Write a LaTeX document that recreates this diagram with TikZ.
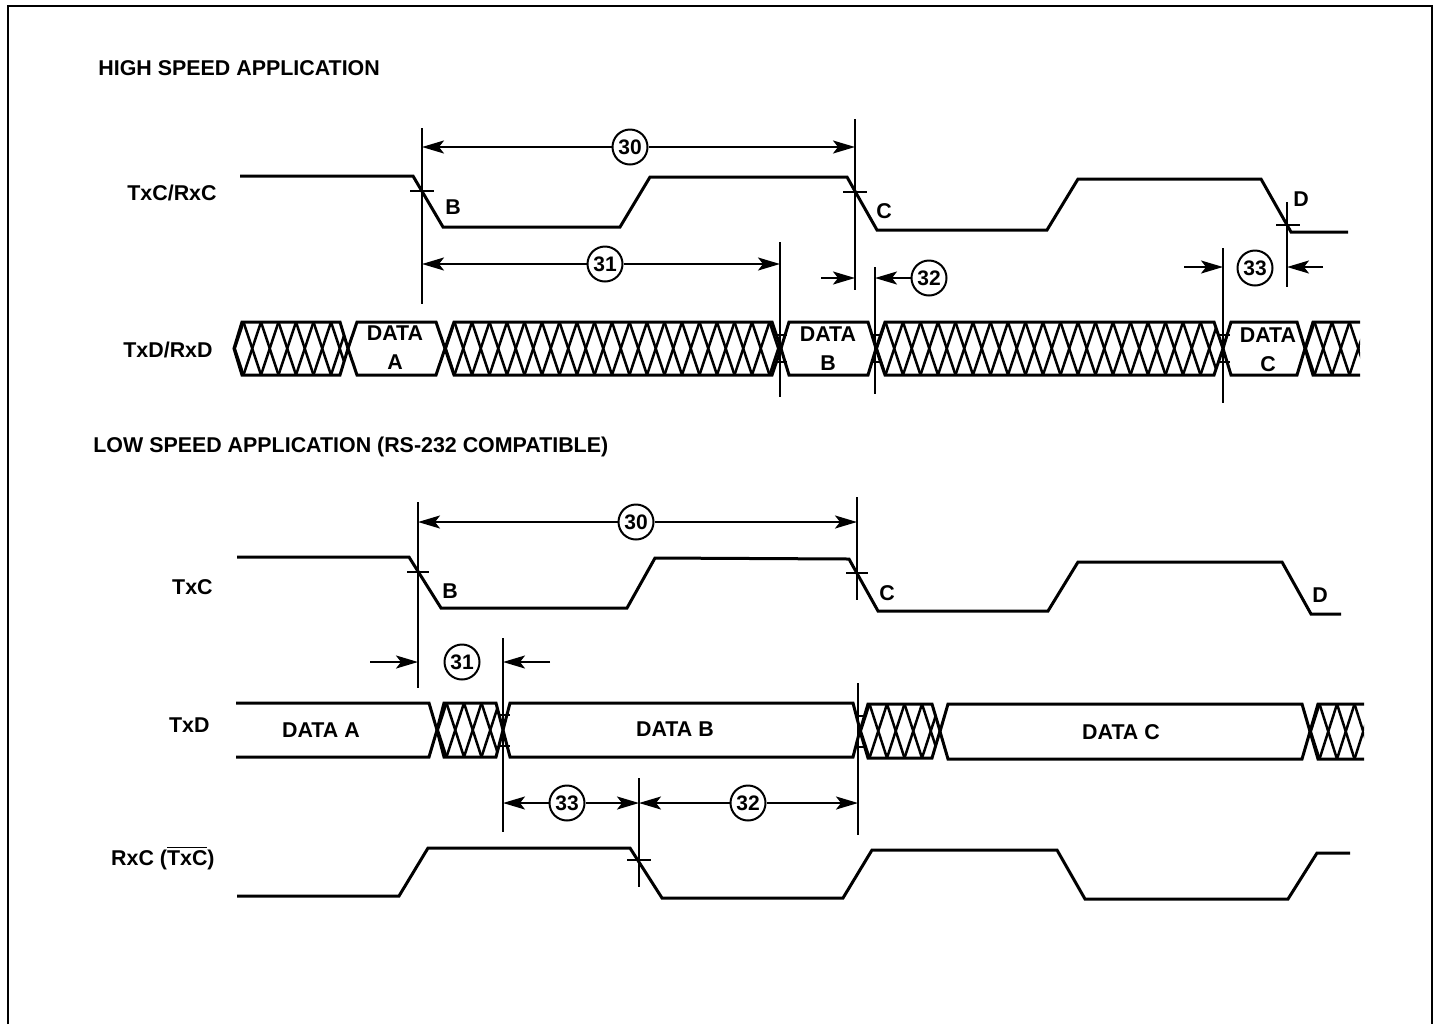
\documentclass[tikz,border=0pt]{standalone}
\usepackage{fontspec}
\setmainfont{Liberation Sans}
\usetikzlibrary{arrows.meta}
\newcommand\hatchlines[3]{%
  \foreach \i in {0,...,24}{%
    \draw[hatchline] ({#1+\i*17.5},#3) -- ++(17.5,{#2-#3});
    \draw[hatchline] ({#1+\i*17.5},#2) -- ++(17.5,{#3-#2});
  }}
% xl, xr, top, bot, hw
\newcommand\hatchhex[5]{%
  \begin{scope}
    \clip (#1,{(#3+#4)/2}) -- ({#1+#5},#3) -- ({#2-#5},#3) -- (#2,{(#3+#4)/2}) -- ({#2-#5},#4) -- ({#1+#5},#4) -- cycle;
    \hatchlines{#1-8}{#3}{#4}
  \end{scope}
  \draw[bus] (#1,{(#3+#4)/2}) -- ({#1+#5},#3) -- ({#2-#5},#3) -- (#2,{(#3+#4)/2}) -- ({#2-#5},#4) -- ({#1+#5},#4) -- cycle;}
\newcommand\hatchcut[5]{%
  \begin{scope}
    \clip (#1,{(#3+#4)/2}) -- ({#1+#5},#3) -- (#2,#3) -- (#2,#4) -- ({#1+#5},#4) -- cycle;
    \hatchlines{#1-8}{#3}{#4}
  \end{scope}
  \draw[bus] (#2,#3) -- ({#1+#5},#3) -- (#1,{(#3+#4)/2}) -- ({#1+#5},#4) -- (#2,#4);}
\newcommand\datahex[5]{%
  \draw[bus] (#1,{(#3+#4)/2}) -- ({#1+#5},#3) -- ({#2-#5},#3) -- (#2,{(#3+#4)/2}) -- ({#2-#5},#4) -- ({#1+#5},#4) -- cycle;}
\newcommand\ovl[1]{$\overline{\hbox{#1}}$}
\begin{document}
\begin{tikzpicture}[x=0.5pt,y=-0.5pt,
  wave/.style={line width=1.5pt, line join=miter},
  ext/.style={line width=1pt},
  dim/.style={line width=1pt, -{Stealth[length=11pt,width=6.5pt,inset=2.5pt]}},
  num/.style={circle, draw, line width=1pt, minimum size=17.5pt, inner sep=0pt, fill=white,
    font=\bfseries\fontsize{10.5}{10.5}\selectfont},
  lbl/.style={font=\bfseries\fontsize{10.7}{14.5}\selectfont, inner sep=0pt, align=center},
  bus/.style={line width=1.5pt, line join=miter},
  hatchline/.style={line width=1.25pt},
  tick/.style={line width=1pt}]
\useasboundingbox (0,0) rectangle (1440,1024);
\fill[white] (0,0) rectangle (1440,1024);
% frame
\draw[line width=0.8pt] (8,1024) -- (8,6) -- (1432,6) -- (1432,1024);

% ================= HIGH SPEED =================
\node[lbl, anchor=west] (tHigh) at (98,68) {HIGH SPEED APPLICATION};
\node[lbl, anchor=east] (sTxCRxC) at (217,193) {TxC/RxC};
\node[lbl, anchor=east] (sTxDRxD) at (213,350) {TxD/RxD};

% clock
\draw[wave] (240,176) -- (413,176) -- (443,227) -- (620,227) -- (650,177) -- (847,177)
  -- (877,230) -- (1047,230) -- (1078,179) -- (1261,179) -- (1291,232) -- (1348,232);

% bus
\hatchhex{234}{348}{322}{375}{8}
\datahex{348}{445}{322}{375}{9}
\hatchhex{445}{781}{322}{375}{9}
\datahex{781}{876}{322}{375}{8}
\hatchhex{876}{1223}{322}{375}{9}
\datahex{1223}{1305}{322}{375}{8}
\hatchcut{1305}{1360}{322}{375}{8}

\node[lbl] (dA1) at (395,348) {DATA\\A};
\node[lbl] (dB1) at (828,349) {DATA\\B};
\node[lbl] (dC1) at (1268,350) {DATA\\C};

% extension lines
\coordinate (hB1) at (422,128); \coordinate (hB2) at (422,304);
\coordinate (hC1) at (855,119); \coordinate (hC2) at (855,290);
\coordinate (h31a) at (780,242); \coordinate (h31b) at (780,397);
\coordinate (h32a) at (875,267); \coordinate (h32b) at (875,394);
\coordinate (h33a) at (1223,248); \coordinate (h33b) at (1223,403);
\coordinate (hD1) at (1287,202); \coordinate (hD2) at (1287,287);
\draw[ext] (hB1) -- (hB2);
\draw[ext] (hC1) -- (hC2);
\draw[ext] (h31a) -- (h31b);
\draw[ext] (h32a) -- (h32b);
\draw[ext] (h33a) -- (h33b);
\draw[ext] (hD1) -- (hD2);

% crossing ticks
\draw[tick] (410,191) -- (434,191);
\draw[tick] (843,192) -- (867,192);
\draw[tick] (1276,225) -- (1300,225);
\foreach \xx in {780,875,1223}{
  \draw[tick] (\xx-3,335) -- (\xx+7,335);
  \draw[tick] (\xx-3,362) -- (\xx+7,362);
}

\node[lbl] (hBl) at (453,207) {B};
\node[lbl] (hCl) at (884,211) {C};
\node[lbl] (hDl) at (1301,199) {D};

% dimensions
\node[num] (h30) at (630,147) {30};
\coordinate (h30l) at (422,147); \coordinate (h30r) at (855,147);
\draw[dim] (h30) -- (h30l); \draw[dim] (h30) -- (h30r);

\node[num] (h31) at (605,264) {31};
\coordinate (h31l) at (422,264); \coordinate (h31r) at (780,264);
\draw[dim] (h31) -- (h31l); \draw[dim] (h31) -- (h31r);

\coordinate (h32s) at (821,278); \coordinate (h32e) at (855,278);
\draw[dim] (h32s) -- (h32e);
\node[num] (h32) at (929,278) {32};
\coordinate (h32t) at (875,278);
\draw[dim] (h32) -- (h32t);

\coordinate (h33s) at (1184,267); \coordinate (h33e) at (1223,267);
\draw[dim] (h33s) -- (h33e);
\node[num] (h33) at (1255,268) {33};
\coordinate (h33s2) at (1323,267); \coordinate (h33e2) at (1287,267);
\draw[dim] (h33s2) -- (h33e2);

% ================= LOW SPEED =================
\node[lbl, anchor=west] (tLow) at (93,447) {LOW SPEED APPLICATION (RS-232 COMPATIBLE)};
\node[lbl, anchor=east] (sTxC) at (213,587) {TxC};
\node[lbl, anchor=east] (sTxD) at (210,725) {TxD};
\node[lbl, anchor=east] (sRxC) at (215,858) {RxC (\ovl{TxC})};

% TxC
\draw[wave] (237,557) -- (409,557) -- (441,608) -- (627,608) -- (655,558) -- (849,559)
  -- (878,611) -- (1048,611) -- (1078,562) -- (1282,562) -- (1311,614) -- (1341,614);

% TxD bus
\draw[bus] (236,703) -- (429,703) -- (437,730) -- (429,757) -- (236,757);
\hatchhex{437}{503}{703}{757}{7}
\datahex{503}{860}{703}{757}{7}
\hatchhex{860}{940}{704}{758}{8}
\datahex{940}{1310}{704}{759}{8}
\hatchcut{1310}{1364}{704}{759}{8}

\node[lbl] (dA2) at (321,730) {DATA A};
\node[lbl] (dB2) at (675,729) {DATA B};
\node[lbl] (dC2) at (1121,732) {DATA C};

% RxC
\draw[wave] (237,896) -- (399,896) -- (428,848) -- (630,848) -- (662,898) -- (843,898)
  -- (872,850) -- (1057,850) -- (1085,899) -- (1288,899) -- (1317,853) -- (1350,853);

% extension lines
\coordinate (lB1) at (418,502); \coordinate (lB2) at (418,688);
\coordinate (lC1) at (857,497); \coordinate (lC2) at (857,600);
\coordinate (l31a) at (503,638); \coordinate (l31b) at (503,832);
\coordinate (lCd1) at (858,683); \coordinate (lCd2) at (858,835);
\coordinate (l33a) at (639,778); \coordinate (l33b) at (639,887);
\draw[ext] (lB1) -- (lB2);
\draw[ext] (lC1) -- (lC2);
\draw[ext] (l31a) -- (l31b);
\draw[ext] (lCd1) -- (lCd2);
\draw[ext] (l33a) -- (l33b);

% ticks
\draw[tick] (407,572) -- (429,572);
\draw[tick] (846,573) -- (868,573);
\draw[tick] (627,860) -- (651,860);
\foreach \xx/\yy in {503/715, 503/746, 858/716, 858/747}{
  \draw[tick] (\xx-3,\yy) -- (\xx+7,\yy);
}

\node[lbl] (lBl) at (450,591) {B};
\node[lbl] (lCl) at (887,593) {C};
\node[lbl] (lDl) at (1320,595) {D};

% dimensions
\node[num] (l30) at (636,522) {30};
\coordinate (l30l) at (418,522); \coordinate (l30r) at (857,522);
\draw[dim] (l30) -- (l30l); \draw[dim] (l30) -- (l30r);

\coordinate (l31s) at (370,662); \coordinate (l31e) at (418,662);
\draw[dim] (l31s) -- (l31e);
\node[num] (l31) at (462,662) {31};
\coordinate (l31s2) at (550,662); \coordinate (l31e2) at (503,662);
\draw[dim] (l31s2) -- (l31e2);

\node[num] (l33) at (567,803) {33};
\coordinate (l33l) at (503,803); \coordinate (l33r) at (639,803);
\draw[dim] (l33) -- (l33l); \draw[dim] (l33) -- (l33r);

\node[num] (l32) at (748,803) {32};
\coordinate (l32l) at (639,803); \coordinate (l32r) at (858,803);
\draw[dim] (l32) -- (l32l); \draw[dim] (l32) -- (l32r);
\end{tikzpicture}
\end{document}
